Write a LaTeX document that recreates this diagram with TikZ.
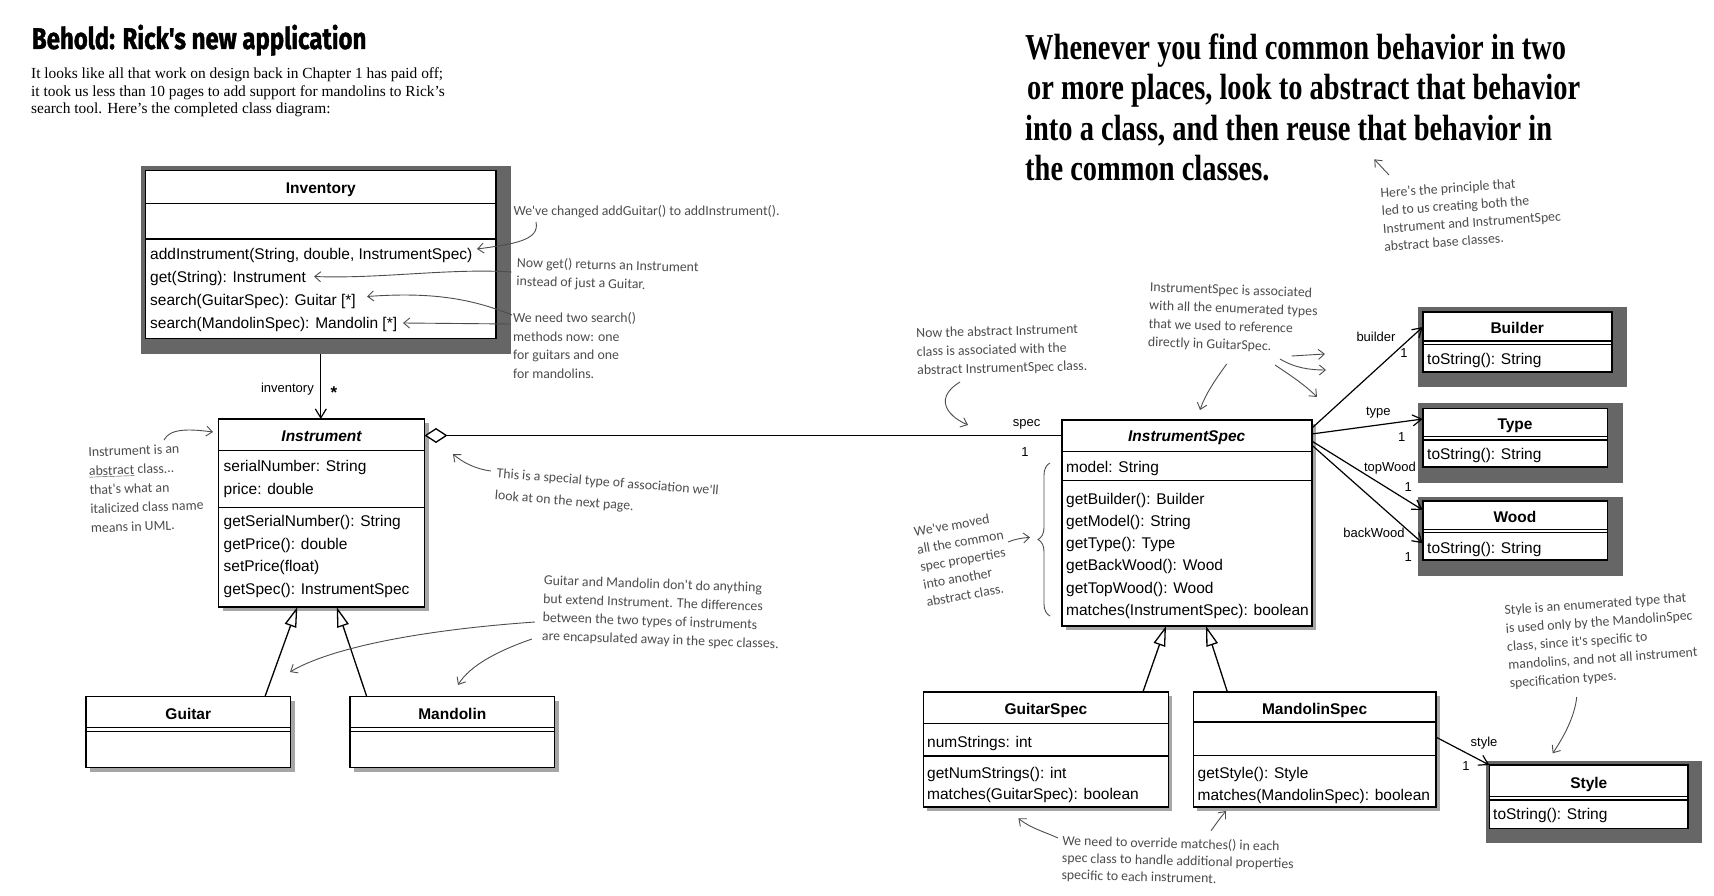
\documentclass[tikz,border=0pt]{standalone}
\usepackage{fontspec}
\setmainfont{Liberation Serif}
\newfontfamily\umlfont{Liberation Sans}
\newfontfamily\notefont{Carlito}
\newfontfamily\quotefont[FakeStretch=0.78]{Liberation Serif}
\newfontfamily\headfont[FakeStretch=0.8,FakeBold=1.2]{Fira Sans}
\usetikzlibrary{arrows.meta,shadows,decorations.pathreplacing,calc}
\definecolor{shadegrey}{HTML}{666666}
\definecolor{notegrey}{HTML}{4D4D4D}
\newcommand\umlbox[6][]{\node[classbox,#1,minimum width={(#5)-(#3)},minimum height={(#6)-(#4)}] (#2) at (#3,#4) {};}
\newcommand\greyback[4]{\fill[shadegrey] (#1,#2) rectangle (#3,#4);}
\newcommand\hdiv[2]{\draw[divider] (#1.west |- 0,#2) -- (#1.east |- 0,#2);}
\tikzset{
  classbox/.style={draw=black, line width=1.6pt, fill=white, inner sep=0pt, outer sep=0pt, anchor=north west},
  softshadow/.style={drop shadow={shadow xshift=4pt,shadow yshift=-4pt,opacity=0.35,fill=black}},
  divider/.style={line width=1.2pt},
  mtext/.style={font=\umlfont\fontsize{15.5}{18}\selectfont, anchor=west, inner sep=0pt, text height=11pt, text depth=3.5pt, yshift=-2.7pt},
  ctitle/.style={font=\umlfont\bfseries\fontsize{15.5}{18}\selectfont, inner sep=0pt, text height=11pt, text depth=3.5pt, yshift=-2.7pt},
  ititle/.style={font=\umlfont\bfseries\itshape\fontsize{15.5}{18}\selectfont, inner sep=0pt, text height=11pt, text depth=3.5pt, yshift=-2.7pt},
  lbl/.style={font=\umlfont\fontsize{13}{15}\selectfont, inner sep=0pt},
  note/.style={font=\notefont\fontsize{13.8}{18.5}\selectfont, text=notegrey, inner sep=0pt, align=left, anchor=north west},
  notearrow/.style={draw=notegrey, line width=0.9pt, -{Straight Barb[length=6pt,width=10pt]}},
  assoc/.style={line width=1.2pt, -{Straight Barb[length=9pt,width=11pt]}},
  gen/.style={line width=1.3pt, -{Triangle[open,length=20pt,width=12pt,fill=white]}},
  body/.style={font=\fontsize{15.4}{17.5}\selectfont, inner sep=0pt, anchor=base west},
  quote/.style={font=\quotefont\bfseries\fontsize{36.5}{40}\selectfont, inner sep=0pt, anchor=base west},
}
\begin{document}
\begin{tikzpicture}[x=1pt,y=-1pt]
\fill[white] (0,0) rectangle (1714,896);
\useasboundingbox (0,0) rectangle (1714,896);

% ---------- headings ----------
\node[font=\headfont\bfseries\fontsize{30}{34}\selectfont, inner sep=0pt, anchor=base west] (head) at (31.7,49) {Behold: Rick's new application};
\node[body] (b1) at (31,79) {It looks like all that work on design back in Chapter 1 has paid off;};
\node[body] (b2) at (31,96.3) {it took us less than 10 pages to add support for mandolins to Rick's};
\node[body] (b3) at (31,113.6) {search tool. Here's the completed class diagram:};

\node[quote] (q1) at (1025,59.5) {Whenever you find common behavior in two};
\node[quote] (q2) at (1027,100) {or more places, look to abstract that behavior};
\node[quote] (q3) at (1025,140.5) {into a class, and then reuse that behavior in};
\node[quote] (q4) at (1025,181) {the common classes.};

% ---------- Inventory ----------
\greyback{141}{166}{511}{354}
\umlbox{inv}{145.6}{170.7}{496}{338.3}
\hdiv{inv}{203.3}\hdiv{inv}{239}
\node[ctitle] (invt) at (320.8,187) {Inventory};
\node[mtext] (invm1) at (150,253) {addInstrument(String, double, InstrumentSpec)};
\node[mtext] (invm2) at (150,276) {get(String): Instrument};
\node[mtext] (invm3) at (150,299.5) {search(GuitarSpec): Guitar [*]};
\node[mtext] (invm4) at (150,322.5) {search(MandolinSpec): Mandolin [*]};

% ---------- Instrument ----------
\umlbox[softshadow]{inst}{218.5}{419}{424.5}{607}
\hdiv{inst}{450.7}\hdiv{inst}{507.3}
\node[ititle] (instt) at (321.5,435) {Instrument};
\node[mtext] (insta1) at (223.5,465) {serialNumber: String};
\node[mtext] (insta2) at (223.5,488) {price: double};
\node[mtext] (instm1) at (223.5,520) {getSerialNumber(): String};
\node[mtext] (instm2) at (223.5,543) {getPrice(): double};
\node[mtext] (instm3) at (223.5,565.5) {setPrice(float)};
\node[mtext] (instm4) at (223.5,588) {getSpec(): InstrumentSpec};

% ---------- Guitar / Mandolin ----------
\umlbox[softshadow]{gtr}{86}{696.5}{290.5}{767.5}
\hdiv{gtr}{727.5}\hdiv{gtr}{731.5}
\node[ctitle] (gtrt) at (188.3,713) {Guitar};
\umlbox[softshadow]{mand}{350}{696.5}{554.5}{767.5}
\hdiv{mand}{727.5}\hdiv{mand}{731.5}
\node[ctitle] (mandt) at (452.3,713) {Mandolin};

% ---------- InstrumentSpec ----------
\umlbox[softshadow]{ispec}{1061.7}{420}{1311.7}{626}
\hdiv{ispec}{451.7}\hdiv{ispec}{480.7}
\node[ititle] (ispect) at (1186.7,435) {InstrumentSpec};
\node[mtext] (ispeca1) at (1066,466) {model: String};
\node[mtext] (ispecm1) at (1066,497.7) {getBuilder(): Builder};
\node[mtext] (ispecm2) at (1066,520) {getModel(): String};
\node[mtext] (ispecm3) at (1066,541.7) {getType(): Type};
\node[mtext] (ispecm4) at (1066,564.3) {getBackWood(): Wood};
\node[mtext] (ispecm5) at (1066,586.7) {getTopWood(): Wood};
\node[mtext] (ispecm6) at (1066,609) {matches(InstrumentSpec): boolean};

% ---------- Builder / Type / Wood ----------
\greyback{1418.3}{307.3}{1626.7}{386.7}
\umlbox{bld}{1422.7}{311.7}{1611.7}{371.7}
\hdiv{bld}{341}\hdiv{bld}{344.5}
\node[ctitle] (bldt) at (1517.2,327) {Builder};
\node[mtext] (bldm) at (1427,358) {toString(): String};

\greyback{1418.3}{403.3}{1623.3}{483.3}
\umlbox{typ}{1422.7}{408.3}{1607.3}{466.7}
\hdiv{typ}{436.7}\hdiv{typ}{440}
\node[ctitle] (typt) at (1515,423) {Type};
\node[mtext] (typm) at (1427,453.3) {toString(): String};

\greyback{1418.3}{496.7}{1623.3}{576}
\umlbox{wood}{1422.7}{501}{1607.3}{560}
\hdiv{wood}{529.3}\hdiv{wood}{532.7}
\node[ctitle] (woodt) at (1515,516.5) {Wood};
\node[mtext] (woodm) at (1427,546.7) {toString(): String};

% ---------- GuitarSpec / MandolinSpec / Style ----------
\umlbox[softshadow]{gspec}{923.4}{691.7}{1168.4}{806.7}
\hdiv{gspec}{723.3}\hdiv{gspec}{756}
\node[ctitle] (gspect) at (1045.9,708) {GuitarSpec};
\node[mtext] (gspeca) at (927,740.7) {numStrings: int};
\node[mtext] (gspecm1) at (927,771.7) {getNumStrings(): int};
\node[mtext] (gspecm2) at (927,793.3) {matches(GuitarSpec): boolean};

\umlbox[softshadow]{mspec}{1193.4}{691.7}{1435.8}{806.7}
\hdiv{mspec}{722}\hdiv{mspec}{755.5}
\node[ctitle] (mspect) at (1314.6,708) {MandolinSpec};
\node[mtext] (mspecm1) at (1197.5,771.7) {getStyle(): Style};
\node[mtext] (mspecm2) at (1197.5,794) {matches(MandolinSpec): boolean};

\greyback{1485.7}{761}{1702}{842.7}
\umlbox{sty}{1489.3}{765}{1688.2}{828.3}
\hdiv{sty}{796.7}\hdiv{sty}{800}
\node[ctitle] (styt) at (1588.8,782) {Style};
\node[mtext] (stym) at (1493,813.3) {toString(): String};

% ---------- UML connectors ----------
\draw[assoc] (inv.south |- 0,354) -- (inv.south |- inst.north);
\node[lbl, anchor=east] (linv) at (314,389) {inventory};
\node[font=\umlfont\bfseries\fontsize{17}{17}\selectfont, inner sep=0pt] (lstar) at (334,393) {*};

\draw[line width=1.3pt, {Diamond[open,length=23pt,width=15pt,fill=white]}-] (inst.east |- 0,435.5) -- (ispec.west |- 0,435.5);
\node[lbl] (lspec) at (1026.7,424) {spec};
\node[lbl] (lspec1) at (1025,452) {1};

\draw[gen] (gtr.north -| 265,0) -- (inst.south -| 297.3,0);
\draw[gen] (mand.north -| 366.7,0) -- (inst.south -| 336.7,0);
\draw[gen] (gspec.north -| 1143,0) -- (ispec.south -| 1166,0);
\draw[gen] (mspec.north -| 1227.3,0) -- (ispec.south -| 1206,0);

\draw[assoc] (ispec.east |- 0,428.3) -- (bld.west |- 0,327);
\draw[assoc] (ispec.east |- 0,434) -- (typ.west |- 0,419);
\draw[assoc] (ispec.east |- 0,441) -- (wood.west |- 0,510);
\draw[assoc] (ispec.east |- 0,445) -- (wood.west |- 0,543.3);
\node[lbl] (lbld) at (1376,337.3) {builder};
\node[lbl] (lbld1) at (1404,353.3) {1};
\node[lbl] (ltyp) at (1378.3,412.3) {type};
\node[lbl] (ltyp1) at (1401.7,437.3) {1};
\node[lbl] (ltop) at (1390,468.3) {topWood};
\node[lbl] (ltop1) at (1408.3,487.3) {1};
\node[lbl] (lback) at (1374,532.7) {backWood};
\node[lbl] (lback1) at (1408.3,556.7) {1};

\draw[assoc] (mspec.east |- 0,737) -- (sty.north west);
\node[lbl] (lsty) at (1484,743.3) {style};
\node[lbl] (lsty1) at (1466,766) {1};

% ---------- notes ----------
\node[note, anchor=west] (n1) at (513.3,212) {We've changed addGuitar() to addInstrument().};
\draw[notearrow] (536,222) .. controls (540,240) and (515,244) .. (477,249);

\node[note, rotate=-1.5] (n2) at (517,257) {Now get() returns an Instrument\\instead of just a Guitar.};
\draw[notearrow] (511.7,272) .. controls (450,268) and (380,279) .. (314,276.5);

\node[note, font=\notefont\fontsize{13.8}{18.8}\selectfont] (n3) at (513,312) {We need two search()\\methods now: one\\for guitars and one\\for mandolins.};
\draw[notearrow] (512,315) .. controls (470,298) and (430,292) .. (367,296.5);
\draw[notearrow] (511,324) -- (403,323);

\node[note, font=\notefont\fontsize{13.8}{19}\selectfont, rotate=2] (n4) at (88,447) {Instrument is an\\\underline{abstract} class...\\that's what an\\italicized class name\\means in UML.};
\draw[notearrow] (164,440) .. controls (170,428) and (190,429) .. (213,432);

\node[note, font=\notefont\fontsize{13.8}{22}\selectfont, rotate=-4.5] (n5) at (497,468) {This is a special type of association we'll\\look at on the next page.};
\draw[notearrow] (491,471) .. controls (475,469) and (462,462) .. (453,454);

\node[note, rotate=-2] (n6) at (544,575) {Guitar and Mandolin don't do anything\\but extend Instrument. The differences\\between the two types of instruments\\are encapsulated away in the spec classes.};
\draw[notearrow] (535,622) .. controls (420,630) and (330,648) .. (290,672);
\draw[notearrow] (532,639) .. controls (500,650) and (470,665) .. (458,685);

\node[note, rotate=1.5] (n7) at (916,328) {Now the abstract Instrument\\class is associated with the\\abstract InstrumentSpec class.};
\draw[notearrow] (960,382) .. controls (935,397) and (945,415) .. (968,425);

\node[note, font=\notefont\fontsize{13.8}{18.2}\selectfont, rotate=-2] (n8) at (1150,282) {InstrumentSpec is associated\\with all the enumerated types\\that we used to reference\\directly in GuitarSpec.};
\draw[notearrow] (1226.7,364) .. controls (1215,380) and (1205,395) .. (1200,410);
\draw[notearrow] (1291.7,356) -- (1325,354);
\draw[notearrow] (1280,359) .. controls (1295,368) and (1310,370) .. (1326,370);
\draw[notearrow] (1275,365) .. controls (1290,375) and (1305,385) .. (1317,397);

\node[note, font=\notefont\fontsize{13.8}{17.8}\selectfont, rotate=10] (n9) at (913,527) {We've moved\\all the common\\spec properties\\into another\\abstract class.};
\draw[notearrow] (1008,542) .. controls (1015,539) and (1022,538) .. (1030,537.3);
\draw[notegrey, line width=0.9pt, decorate, decoration={brace, amplitude=12pt}] (1050,616) -- (1050,463);

\node[note, font=\notefont\fontsize{13.8}{17.8}\selectfont, rotate=4] (n10) at (1380,188) {Here's the principle that\\led to us creating both the\\Instrument and InstrumentSpec\\abstract base classes.};
\draw[notearrow] (1389,175) -- (1374.3,159.3);

\node[note, font=\notefont\fontsize{13.8}{17}\selectfont, rotate=-1.5] (n11) at (1062.5,835) {We need to override matches() in each\\spec class to handle additional properties\\specific to each instrument.};
\draw[notearrow] (1058,838) .. controls (1045,832) and (1030,828) .. (1018.4,818.3);
\draw[notearrow] (1211,830.7) .. controls (1216,824) and (1220,818) .. (1226,811);

\node[note, font=\notefont\fontsize{13.8}{18.3}\selectfont, rotate=4] (n12) at (1504,605) {Style is an enumerated type that\\is used only by the MandolinSpec\\class, since it's specific to\\mandolins, and not all instrument\\specification types.};
\draw[notearrow] (1576.7,697) .. controls (1575,715) and (1565,735) .. (1552.7,753.3);
\end{tikzpicture}
\end{document}
